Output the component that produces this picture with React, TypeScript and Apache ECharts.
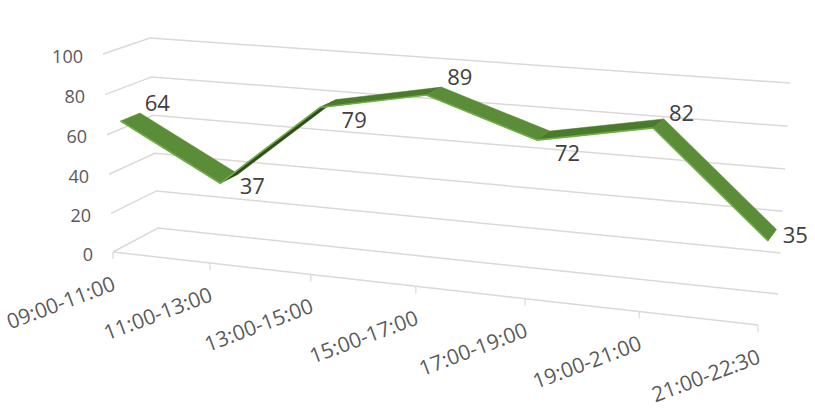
import React, { useEffect, useRef } from "react";
import * as echarts from "echarts";

const categories = ["09:00-11:00", "11:00-13:00", "13:00-15:00", "15:00-17:00", "17:00-19:00", "19:00-21:00", "21:00-22:30"];
const values = [64, 37, 79, 89, 72, 82, 35];
const yTicks = [0, 20, 40, 60, 80, 100];

type P = [number, number];
// Corners of the 3D box as drawn: bottom-left, bottom-right, top-right, top-left
const FRONT: P[] = [[113, 252], [758, 325], [770, 103], [103, 54]];
const BACK: P[] = [[158, 228], [778, 294], [790, 83], [150, 38]];
const RIBBON_FRONT = 0.3;
const RIBBON_BACK = 0.72;
const labelNudge: P[] = [[27, -15], [23, 6], [26, 15], [26, -15], [24, 16], [23, -11], [23, -1]];

function makeHomography(q: P[]) {
  const [[x0, y0], [x1, y1], [x2, y2], [x3, y3]] = q;
  const dx1 = x1 - x2, dx2 = x3 - x2, sx = x0 - x1 + x2 - x3;
  const dy1 = y1 - y2, dy2 = y3 - y2, sy = y0 - y1 + y2 - y3;
  const den = dx1 * dy2 - dx2 * dy1;
  const g = (sx * dy2 - dx2 * sy) / den;
  const h = (dx1 * sy - sx * dy1) / den;
  const a = x1 - x0 + g * x1, b = x3 - x0 + h * x3;
  const d = y1 - y0 + g * y1, e = y3 - y0 + h * y3;
  return (u: number, v: number): P => {
    const w = g * u + h * v + 1;
    return [(a * u + b * v + x0) / w, (d * u + e * v + y0) / w];
  };
}
const frontH = makeHomography(FRONT);
const backH = makeHomography(BACK);

// depth: 0 = front plane, 1 = back wall
function project(u: number, v: number, depth: number): P {
  const f = frontH(u, v);
  const b = backH(u, v);
  return [f[0] + (b[0] - f[0]) * depth, f[1] + (b[1] - f[1]) * depth];
}
function unit(params: any, api: any, i: number, val: number): [number, number] {
  const c = api.coord([i, val]);
  const s = params.coordSys;
  return [(c[0] - s.x) / s.width, (s.y + s.height - c[1]) / s.height];
}

const GRID = "#D9D9D9";
const TEXT = "#595959";
const FONT = "'Open Sans', sans-serif";

function faceColor(a: number, b: number) {
  const d = b - a;
  if (d > 20) return "#2F4D1B";
  if (d > 0) return "#4C7A2D";
  return "#5B8C38";
}

export default function App() {
  const ref = useRef<HTMLDivElement>(null);
  useEffect(() => {
    const chart = echarts.init(ref.current!, undefined, { renderer: "svg" });
    const base = { type: "custom", coordinateSystem: "cartesian2d", silent: true, clip: false, encode: { x: 0, y: 1 } };
    chart.setOption({
      animation: false,
      backgroundColor: "#fff",
      grid: { left: 113, top: 55, width: 645, height: 197, containLabel: false },
      xAxis: { type: "category", data: categories, boundaryGap: false, show: false },
      yAxis: {
        type: "value", min: 0, max: 100, interval: 20, show: false,
      },
      series: [
        {
          ...base,
          data: yTicks.map((t) => [0, t]),
          renderItem: (params: any, api: any) => {
            const tick = api.value(1);
            const [, v] = unit(params, api, 0, tick);
            const pts = [project(0, v, 0), project(0, v, 1), project(1, v, 1)];
            return {
              type: "group",
              children: [
                { type: "polyline", shape: { points: pts }, style: { stroke: GRID, lineWidth: 1.5, fill: "none" } },
                {
                  type: "text", x: pts[0][0] - 20, y: pts[0][1] + 1.5,
                  style: { text: String(tick), align: "right", verticalAlign: "middle", fill: TEXT, font: `18px ${FONT}` },
                },
              ],
            };
          },
        },
        {
          ...base,
          data: categories.map((_, i) => [i, 0]),
          renderItem: (params: any, api: any) => {
            const i = api.value(0);
            const [u, v] = unit(params, api, i, 0);
            const p = project(u, v, 0);
            const children: any[] = [
              { type: "line", shape: { x1: p[0], y1: p[1], x2: p[0], y2: p[1] + 7 }, style: { stroke: GRID, lineWidth: 1.2 } },
              {
                type: "text", x: p[0] + 1, y: p[1] + 30, rotation: 0.36,
                style: { text: categories[i], align: "right", verticalAlign: "middle", fill: TEXT, font: `21px ${FONT}` },
              },
            ];
            if (i < categories.length - 1) {
              const [u2, v2] = unit(params, api, i + 1, 0);
              const q = project(u2, v2, 0);
              children.push({ type: "line", shape: { x1: p[0], y1: p[1], x2: q[0], y2: q[1] }, style: { stroke: GRID, lineWidth: 1.5 } });
            }
            return { type: "group", children };
          },
        },
        {
          ...base,
          data: values.slice(0, -1).map((v, i) => [i, v, values[i + 1]]),
          renderItem: (params: any, api: any) => {
            const i = api.value(0);
            const a = api.value(1), b = api.value(2);
            const [u1, v1] = unit(params, api, i, a);
            const [u2, v2] = unit(params, api, i + 1, b);
            const f1 = project(u1, v1, RIBBON_FRONT), f2 = project(u2, v2, RIBBON_FRONT);
            const b1 = project(u1, v1, RIBBON_BACK), b2 = project(u2, v2, RIBBON_BACK);
            const col = faceColor(a, b);
            return {
              type: "group",
              children: [
                { type: "polygon", shape: { points: [f1, f2, b2, b1] }, style: { fill: col, stroke: col, lineWidth: 0.5 } },
                { type: "line", shape: { x1: f1[0], y1: f1[1], x2: f2[0], y2: f2[1] }, style: { stroke: "#6FAE45", lineWidth: 1.6 } },
              ],
            };
          },
        },
        {
          ...base,
          data: values.map((v, i) => [i, v]),
          renderItem: (params: any, api: any) => {
            const i = api.value(0);
            const val = api.value(1);
            const [u, v] = unit(params, api, i, val);
            const p = project(u, v, (RIBBON_FRONT + RIBBON_BACK) / 2);
            return {
              type: "text",
              x: p[0] + labelNudge[i][0],
              y: p[1] + labelNudge[i][1],
              style: { text: String(val), align: "center", verticalAlign: "middle", fill: "#404040", font: `22px ${FONT}` },
            };
          },
        },
      ],
    });
    return () => chart.dispose();
  }, []);
  return <div ref={ref} style={{ position: "fixed", left: 0, top: 0, width: 815, height: 419 }} />;
}
